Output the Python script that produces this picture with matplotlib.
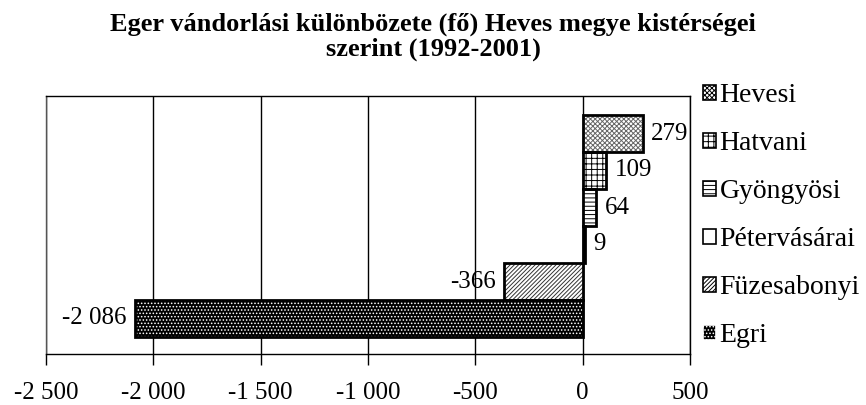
import matplotlib
matplotlib.use("Agg")
import matplotlib.pyplot as plt
from matplotlib.patches import Patch
from matplotlib.ticker import FuncFormatter

regions = ["Egri", "Füzesabonyi", "Pétervásárai", "Gyöngyösi", "Hatvani", "Hevesi"]
values = [-2086, -366, 9, 64, 109, 279]
xticks = [-2500, -2000, -1500, -1000, -500, 0, 500]
title = "Eger vándorlási különbözete (fő) Heves megye kistérségei\nszerint (1992-2001)"

styles = {
    "Egri": dict(face="black", hatch=".....", hcol="white"),
    "Füzesabonyi": dict(face="white", hatch="////////", hcol="#333333"),
    "Pétervásárai": dict(face="white", hatch="", hcol="black"),
    "Gyöngyösi": dict(face="white", hatch="----", hcol="black"),
    "Hatvani": dict(face="white", hatch="+++", hcol="black"),
    "Hevesi": dict(face="white", hatch="xxxxxxx", hcol="#666666"),
}

plt.rcParams['font.family'] = ['Liberation Serif', 'DejaVu Serif']
plt.rcParams['hatch.linewidth'] = 0.7

def fmt(v, pos=None):
    s = f"{abs(int(v)):,}".replace(",", " ")
    return ("-" if v < 0 else "") + s

fig = plt.figure(figsize=(8.66, 4.05), dpi=100)
ax = fig.add_axes([46/866, 1-354/405, (690-46)/866, (354-96)/405])

ypos = list(range(len(regions)))
for y, r, v in zip(ypos, regions, values):
    st = styles[r]
    ax.barh(y, v, height=1.0, color=st["face"], edgecolor=st["hcol"], hatch=st["hatch"], linewidth=0, zorder=3)
    ax.barh(y, v, height=1.0, fill=False, edgecolor="black", linewidth=2, zorder=4)
    if v >= 0:
        ax.annotate(fmt(v), (v, y), xytext=(6, 0), textcoords="offset points",
                    ha="left", va="center", fontsize=18, zorder=5)
    else:
        ax.annotate(fmt(v), (v, y), xytext=(-6, 0), textcoords="offset points",
                    ha="right", va="center", fontsize=18, zorder=5)

ax.set_xlim(-2500, 500)
ax.set_ylim(-0.5 - 17/37, 5.5 + 19/37)
ax.set_xticks(xticks)
ax.xaxis.set_major_formatter(FuncFormatter(fmt))
ax.set_yticks([])
ax.tick_params(axis="x", length=8, width=1, direction="out", labelsize=18, pad=12, colors="black")
ax.grid(axis="x", color="black", linewidth=1, zorder=1)
for s in ax.spines.values():
    s.set_color("black")
    s.set_linewidth(1)
ax.spines["left"].set_color("#555555")

fig.text(0.5, 1 - 37/405, title, ha="center", va="center", fontsize=19, fontweight="bold", linespacing=1.1)

handles = []
for r in reversed(regions):
    st = styles[r]
    handles.append(Patch(facecolor=st["face"], edgecolor=st["hcol"],
                         hatch=st["hatch"], linewidth=1.2))
leg = fig.legend(handles, list(reversed(regions)), loc="upper left",
                 bbox_to_anchor=(703/866, 1 - 83/405), frameon=False, fontsize=20,
                 handlelength=0.45, handleheight=0.45, handletextpad=0.15, labelspacing=0.83,
                 borderaxespad=0, borderpad=0)
for h, r in zip(leg.legend_handles, reversed(regions)):
    if styles[r]["face"] == "white":
        h.set_edgecolor("black")

fig.savefig("out.png", dpi=100)
